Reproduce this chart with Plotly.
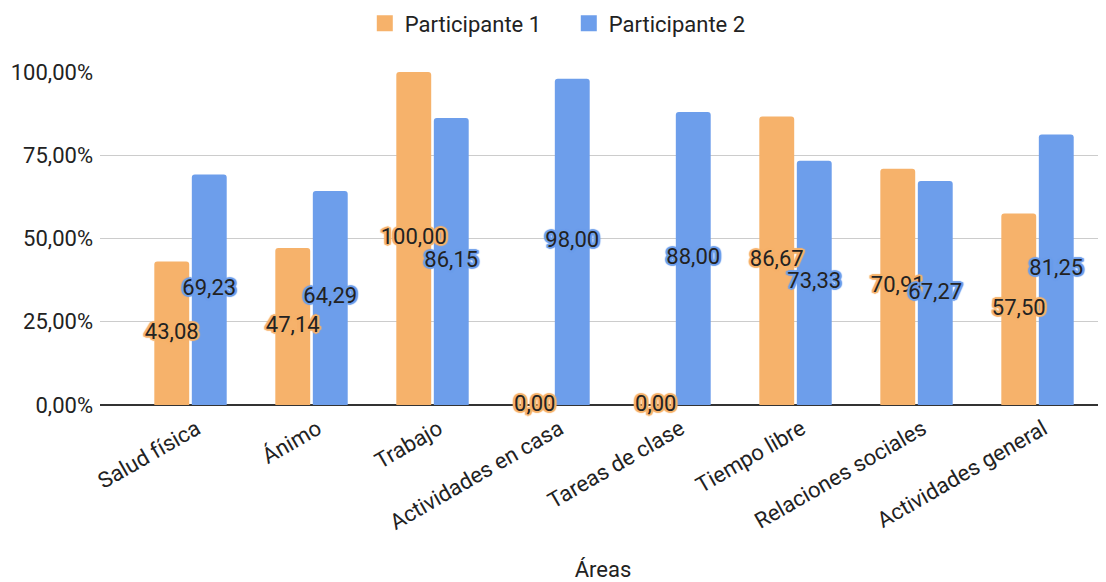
import plotly.graph_objects as go

categories = ["Salud física", "Ánimo", "Trabajo", "Actividades en casa",
              "Tareas de clase", "Tiempo libre", "Relaciones sociales", "Actividades general"]
p1_values = [43.08, 47.14, 100.00, 0.00, 0.00, 86.67, 70.91, 57.50]
p2_values = [69.23, 64.29, 86.15, 98.00, 88.00, 73.33, 67.27, 81.25]
series_names = ["Participante 1", "Participante 2"]
y_tick_vals = [0, 25, 50, 75, 100]
y_tick_text = ["0,00%", "25,00%", "50,00%", "75,00%", "100,00%"]
x_title = "Áreas"

ORANGE = "#f6b26b"
BLUE = "#6d9eeb"
FONT = "Roboto, Arial, sans-serif"
FS = 22


def fmt(v):
    return f"{v:.2f}".replace(".", ",")


def shadow(c):
    offs = [(-1, -1), (1, -1), (-1, 1), (1, 1), (0, -2), (0, 2), (-2, 0), (2, 0),
            (-2, -1), (2, -1), (-2, 1), (2, 1)]
    return ", ".join(f"{dx}px {dy}px 1px {c}" for dx, dy in offs)


series = [(series_names[0], p1_values, ORANGE, "g1"), (series_names[1], p2_values, BLUE, "g2")]

fig = go.Figure()
for name, vals, col, grp in series:
    fig.add_trace(go.Bar(
        x=categories, y=vals, name=name, offsetgroup=grp, showlegend=False,
        marker=dict(color=col, line=dict(width=0), cornerradius=3),
        cliponaxis=False, hoverinfo="skip",
    ))
for name, vals, col, grp in series:
    fig.add_trace(go.Scatter(
        x=categories, y=[v / 2 for v in vals], mode="text", offsetgroup=grp,
        text=[fmt(v) for v in vals], textposition="middle center",
        textfont=dict(family=FONT, size=FS, color="#222222", shadow=shadow(col)),
        showlegend=False, cliponaxis=False, hoverinfo="skip",
    ))
for name, vals, col, grp in series:
    fig.add_trace(go.Scatter(
        x=[None], y=[None], mode="markers", name=name,
        marker=dict(symbol="square", size=20, color=col),
    ))

fig.update_layout(
    width=1098, height=574,
    margin=dict(l=92, r=0, t=64, b=177, autoexpand=False),
    paper_bgcolor="white", plot_bgcolor="white",
    barmode="group", bargap=0.38, bargroupgap=0.07,
    scattermode="group", scattergap=0.38,
    font=dict(family=FONT, size=FS, color="#222222"),
    legend=dict(orientation="h", x=0.466, xanchor="center", y=1.209,
                yanchor="top", font=dict(size=FS, color="#222222"),
                entrywidth=159, entrywidthmode="pixels", traceorder="normal"),
    xaxis=dict(type="category", range=[-0.748, 7.566], tickangle=-30,
               tickfont=dict(size=FS, color="#222222"), showgrid=False,
               showline=False, ticks="", automargin=False,
               ticklabelstandoff=6, ticklabelshift=6,
               title=dict(text=x_title, font=dict(size=FS, color="#222222"), standoff=31)),
    yaxis=dict(range=[0, 100], tickvals=y_tick_vals, ticktext=y_tick_text,
               tickfont=dict(size=FS, color="#222222"), showgrid=True,
               gridcolor="#cccccc", gridwidth=1, zeroline=True, zerolinecolor="#333333",
               zerolinewidth=2, showline=False, ticks="", ticklabelstandoff=6,
               automargin=False),
)
fig.write_html("out.html")
